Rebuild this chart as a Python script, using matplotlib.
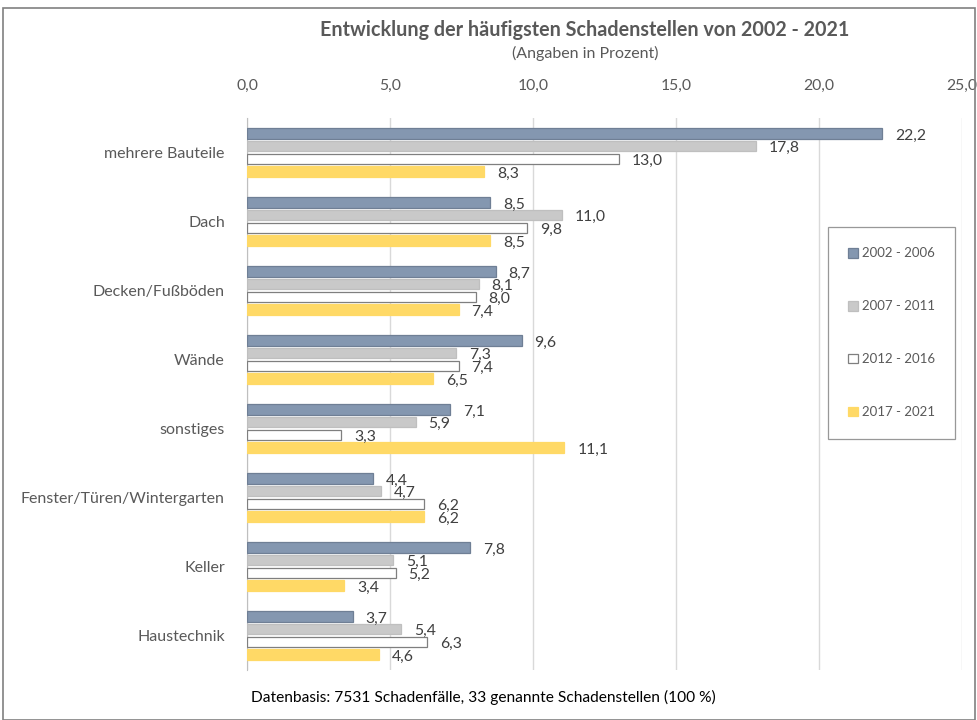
import numpy as np
import matplotlib.pyplot as plt

categories = ["mehrere Bauteile", "Dach", "Decken/Fußböden", "Wände", "sonstiges",
              "Fenster/Türen/Wintergarten", "Keller", "Haustechnik"]
periods = ["2002 - 2006", "2007 - 2011", "2012 - 2016", "2017 - 2021"]
v_2002 = [22.2, 8.5, 8.7, 9.6, 7.1, 4.4, 7.8, 3.7]
v_2007 = [17.8, 11.0, 8.1, 7.3, 5.9, 4.7, 5.1, 5.4]
v_2012 = [13.0, 9.8, 8.0, 7.4, 3.3, 6.2, 5.2, 6.3]
v_2017 = [8.3, 8.5, 7.4, 6.5, 11.1, 6.2, 3.4, 4.6]
xticks = [0, 5, 10, 15, 20, 25]

series = [v_2002, v_2007, v_2012, v_2017]
faces = ["#8497B0", "#C9C9C9", "#FFFFFF", "#FFD966"]
edges = ["#6F7F95", "#BFBFBF", "#7F7F7F", "#FFD966"]

plt.rcParams['font.family'] = ['Lato', 'DejaVu Sans']
grey = "#595959"

fig = plt.figure(figsize=(9.78, 7.2), dpi=100)
ax = fig.add_axes([247/978, 1-670/720, 715/978, 552/720])

y = np.arange(len(categories))
pitch = 0.182
h = 0.15
for i, vals in enumerate(series):
    pos = y + (i - 1.5) * pitch
    ax.barh(pos, vals, height=h, color=faces[i], edgecolor=edges[i],
            linewidth=0.9, label=periods[i], zorder=3)
    for p, v in zip(pos, vals):
        ax.text(v + 0.45, p + 0.03, f"{v:.1f}".replace(".", ","), va="center",
                ha="left", fontsize=11.3, color="#404040", zorder=4)

ax.set_ylim(len(categories) - 0.5, -0.5)
ax.set_xlim(0, 25)
ax.set_xticks(xticks)
ax.set_xticklabels([f"{t:.1f}".replace(".", ",") for t in xticks], fontsize=11.3, color=grey)
ax.xaxis.tick_top()
ax.tick_params(axis="x", length=0, pad=18)
ax.set_yticks(y)
ax.set_yticklabels(categories, fontsize=11.5, color=grey)
ax.tick_params(axis="y", length=0, pad=16)
ax.grid(axis="x", color="#D9D9D9", linewidth=1, zorder=0)
for s in ["top", "right", "bottom"]:
    ax.spines[s].set_visible(False)
ax.spines["left"].set_color("#BFBFBF")

leg = ax.legend(loc="upper left", bbox_to_anchor=((828-247)/715, (670-227)/552),
                frameon=True, fancybox=False, edgecolor="#7F7F7F", fontsize=9.5,
                labelspacing=3.1, handlelength=0.75, handleheight=0.75,
                handletextpad=0.25, borderpad=1.55, borderaxespad=0)
for t in leg.get_texts():
    t.set_color(grey)
leg.get_frame().set_linewidth(0.9)

fig.text(585/978, 1-30/720, "Entwicklung der häufigsten Schadenstellen von 2002 - 2021",
         ha="center", va="center", fontsize=14.2, fontweight="bold", color=grey)
fig.text(585/978, 1-53/720, "(Angaben in Prozent)", ha="center", va="center",
         fontsize=11.5, color=grey)
fig.text(483/978, 1-697/720, "Datenbasis: 7531 Schadenfälle, 33 genannte Schadenstellen (100 %)",
         ha="center", va="center", fontsize=11.2, color="black")

fig.patches.append(plt.Rectangle((3/978, 0), 1-6/978, 1-8/720, transform=fig.transFigure,
                                 fill=False, edgecolor="#808080", linewidth=1.2))

fig.savefig("out.png", dpi=100)
